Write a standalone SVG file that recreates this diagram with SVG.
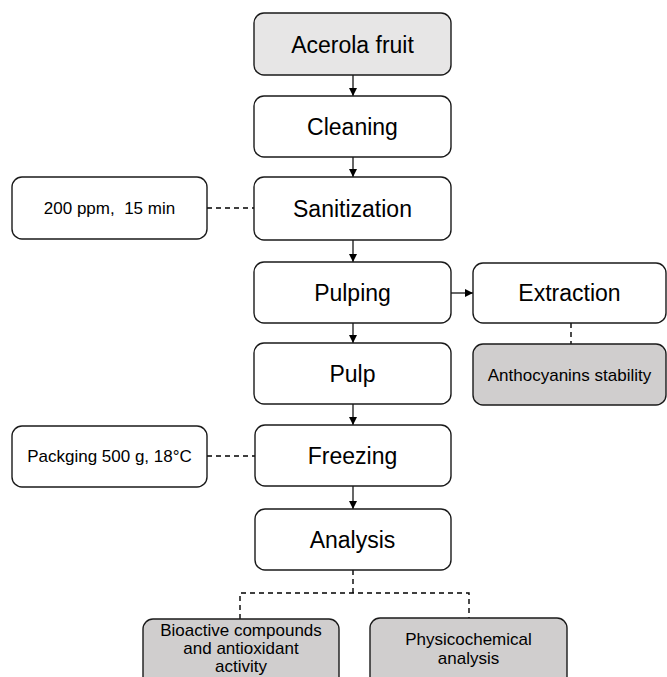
<svg xmlns="http://www.w3.org/2000/svg" width="667" height="677" viewBox="0 0 667 677">
<defs>
<marker id="ah" viewBox="0 0 10 10" refX="10" refY="5" markerWidth="8" markerHeight="8" markerUnits="userSpaceOnUse" orient="auto">
<path d="M0,0 L10,5 L0,10 Z" fill="#000"/>
</marker>
<style>
.box{fill:#fff;stroke:#1a1a1a;stroke-width:1.4}
.light{fill:#e7e6e6}
.gray{fill:#d0cece}
.big{font-family:"Liberation Sans",Arial,sans-serif;font-size:23px;fill:#000;text-anchor:middle}
.small{font-family:"Liberation Sans",Arial,sans-serif;font-size:17px;fill:#000;text-anchor:middle}
.arrow{stroke:#000;stroke-width:1.2;fill:none;marker-end:url(#ah)}
.dash{stroke:#000;stroke-width:1.4;fill:none;stroke-dasharray:5,4}
</style>
</defs>
<rect width="667" height="677" fill="#fff"/>
<g id="connectors">
<line class="arrow" x1="353" y1="75" x2="353" y2="96"/>
<line class="arrow" x1="353" y1="157" x2="353" y2="177"/>
<line class="arrow" x1="353" y1="240" x2="353" y2="262"/>
<line class="arrow" x1="353" y1="323" x2="353" y2="343"/>
<line class="arrow" x1="353" y1="404" x2="353" y2="425"/>
<line class="arrow" x1="353" y1="486" x2="353" y2="509"/>
<line class="arrow" x1="451" y1="293" x2="473" y2="293"/>
<line class="dash" x1="207" y1="208" x2="254" y2="208"/>
<line class="dash" x1="207" y1="456" x2="255" y2="456"/>
<line class="dash" x1="571" y1="323" x2="571" y2="344"/>
<polyline class="dash" points="353,570 353,593"/>
<polyline class="dash" points="240,619 240,593 469,593 469,618"/>
</g>
<g id="n-acerola">
<rect class="box light" x="254" y="13" width="197" height="62" rx="10"/>
<text class="big" x="352.5" y="52.5">Acerola fruit</text>
</g>
<g id="n-cleaning">
<rect class="box" x="254" y="96" width="197" height="61" rx="10"/>
<text class="big" x="352.5" y="134.5">Cleaning</text>
</g>
<g id="n-sanitization">
<rect class="box" x="254" y="177" width="197" height="63" rx="10"/>
<text class="big" x="352.5" y="216.5">Sanitization</text>
</g>
<g id="n-conditions">
<rect class="box" x="12" y="177" width="195" height="62" rx="10"/>
<text class="small" x="109.5" y="214">200 ppm,&#160; 15 min</text>
</g>
<g id="n-pulping">
<rect class="box" x="254" y="262" width="197" height="61" rx="10"/>
<text class="big" x="352.5" y="300.5">Pulping</text>
</g>
<g id="n-extraction">
<rect class="box" x="473" y="263" width="193" height="60" rx="10"/>
<text class="big" x="569.5" y="301">Extraction</text>
</g>
<g id="n-anthocyanins">
<rect class="box gray" x="473" y="344" width="193" height="61" rx="10"/>
<text class="small" x="569.5" y="380.5">Anthocyanins stability</text>
</g>
<g id="n-pulp">
<rect class="box" x="254" y="343" width="197" height="61" rx="10"/>
<text class="big" x="352.5" y="381.5">Pulp</text>
</g>
<g id="n-freezing">
<rect class="box" x="255" y="425" width="196" height="61" rx="10"/>
<text class="big" x="352.5" y="463.5">Freezing</text>
</g>
<g id="n-packaging">
<rect class="box" x="12" y="426" width="195" height="61" rx="10"/>
<text class="small" x="109.5" y="462">Packging 500 g, 18°C</text>
</g>
<g id="n-analysis">
<rect class="box" x="255" y="509" width="196" height="61" rx="10"/>
<text class="big" x="352.5" y="547.5">Analysis</text>
</g>
<g id="n-bioactive">
<rect class="box gray" x="143" y="619" width="196" height="70" rx="10"/>
<text class="small" x="241" y="636">Bioactive compounds</text>
<text class="small" x="241" y="654">and antioxidant</text>
<text class="small" x="241" y="672">activity</text>
</g>
<g id="n-physico">
<rect class="box gray" x="370" y="618" width="197" height="70" rx="10"/>
<text class="small" x="468.5" y="645">Physicochemical</text>
<text class="small" x="468.5" y="664">analysis</text>
</g>
</svg>
